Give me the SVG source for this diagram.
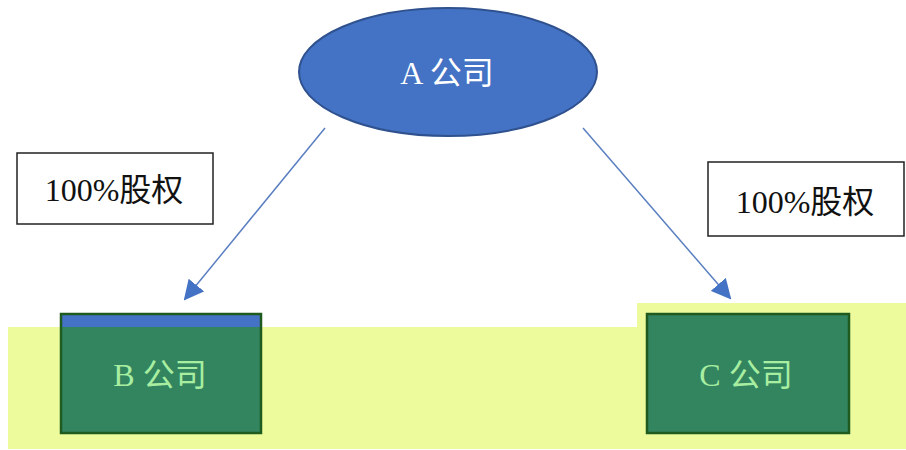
<svg xmlns="http://www.w3.org/2000/svg" width="906" height="450" viewBox="0 0 906 450">
<defs>
<style>
.lbl{font-family:"Liberation Serif","Noto Sans CJK SC",serif;text-anchor:middle;dominant-baseline:central}
.t{font-size:32px}
.box{fill:#ffffff;stroke:#222;stroke-width:1.5}
.co{fill:#338560;stroke:#1f5a1f;stroke-width:2.5}
.edge{stroke:#5a7fc0;stroke-width:1.5;fill:none}
</style>
<marker id="ah" viewBox="0 0 10 10" refX="9" refY="5" markerWidth="20" markerHeight="20" markerUnits="userSpaceOnUse" orient="auto">
<path d="M0,0 L10,5 L0,10 z" fill="#4472c4"/>
</marker>
</defs>
<rect width="906" height="450" fill="#ffffff"/>
<path d="M8,327 H637 V303 H906 V449 H8 Z" fill="#eefb9c"/>
<g id="connectors">
<line class="edge" x1="325" y1="128" x2="185" y2="299" marker-end="url(#ah)"/>
<line class="edge" x1="583" y1="128" x2="730" y2="298" marker-end="url(#ah)"/>
</g>
<g id="nodeA">
<ellipse cx="448" cy="72" rx="149" ry="64" fill="#4472c4" stroke="#2f528f" stroke-width="2"/>
<text class="lbl t" x="447" y="73" fill="#ffffff" font-size="31">A 公司</text>
</g>
<g id="labelB">
<rect class="box" x="17" y="153" width="196" height="71"/>
<text class="lbl t" x="114" y="190" fill="#111">100%股权</text>
</g>
<g id="labelC">
<rect class="box" x="708" y="162" width="196" height="74"/>
<text class="lbl t" x="805" y="202" fill="#111">100%股权</text>
</g>
<g id="nodeB">
<rect x="61" y="314" width="200" height="119" fill="#338560"/>
<rect x="61" y="314" width="200" height="13" fill="#4472c4"/>
<rect x="61" y="314" width="200" height="119" fill="none" stroke="#1f5a1f" stroke-width="2.5"/>
<text class="lbl t" x="160" y="375" fill="#a8eea0">B 公司</text>
</g>
<g id="nodeC">
<rect class="co" x="647" y="314" width="202" height="119"/>
<text class="lbl t" x="746" y="375" fill="#a8eea0">C 公司</text>
</g>
</svg>
